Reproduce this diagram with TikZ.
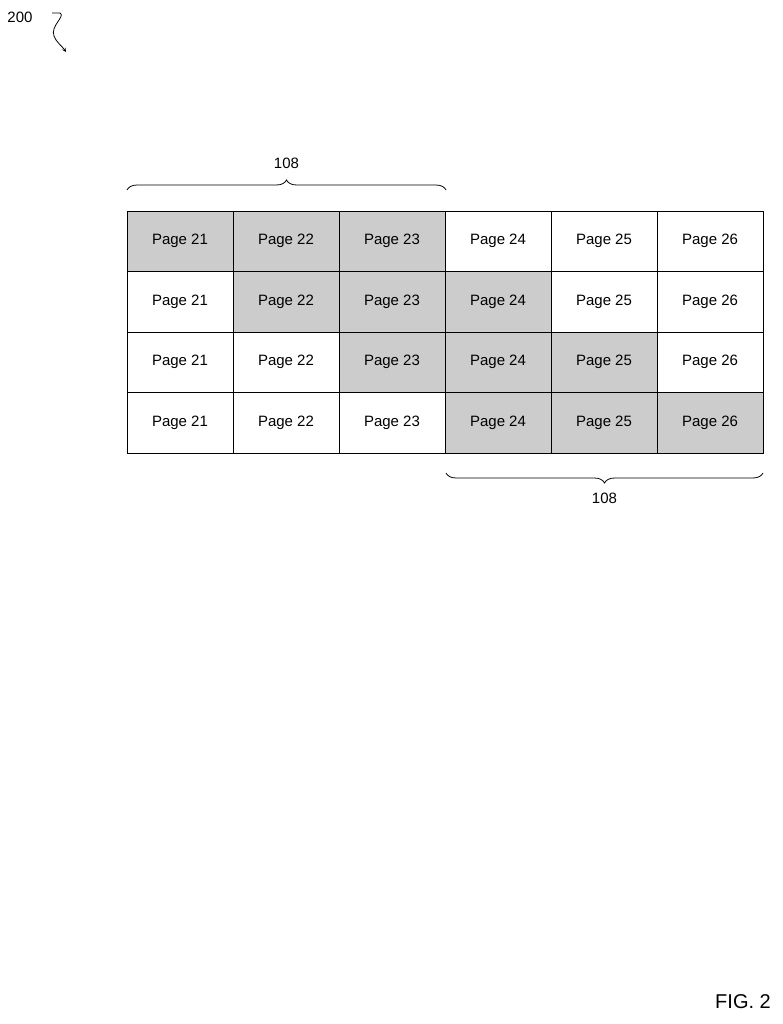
\documentclass[tikz,border=0pt]{standalone}
\usepackage{fontspec}
\setmainfont{Liberation Sans}
\usetikzlibrary{decorations.pathreplacing,arrows}
\tikzstyle{page} = [rectangle, minimum width=106pt, minimum height=60.5pt, draw=black, thick, font=\fontsize{15}{18}\selectfont, inner sep=0pt]
\tikzstyle{shaded} = [page, fill=gray!40]
\tikzstyle{brace} = [thick, decorate, decoration={brace, amplitude=10pt}]
\tikzstyle{arrow} = [thick,->,>=stealth]

\begin{document}
\begin{tikzpicture}[x=1pt, y=-1pt]

\useasboundingbox (0,0) rectangle (782,1024);

%% GRID

\foreach \r/\lo/\hi in {1/1/3, 2/2/4, 3/3/5, 4/4/6} {
  \foreach \c in {1,...,6} {
    \pgfmathtruncatemacro{\num}{20+\c}
    \ifnum\c<\lo
      \node (p\r\c) [page] at (127+106*\c-53, 211+60.5*\r-30.25) {Page \num};
    \else\ifnum\c>\hi
      \node (p\r\c) [page] at (127+106*\c-53, 211+60.5*\r-30.25) {Page \num};
    \else
      \node (p\r\c) [shaded] at (127+106*\c-53, 211+60.5*\r-30.25) {Page \num};
    \fi\fi
  }
}

%% BRACES

\coordinate (b1a) at (127,190);
\coordinate (b1b) at (446,190);
\coordinate (b2a) at (763,473);
\coordinate (b2b) at (446,473);
\draw [brace] (b1a) -- (b1b) node (l1) [midway, above=18pt, font=\fontsize{15}{18}\selectfont] {108};
\draw [brace] (b2a) -- (b2b) node (l2) [midway, below=16pt, font=\fontsize{15}{18}\selectfont] {108};

%% LABELS

\node (fig) [font=\fontsize{15}{18}\selectfont] at (20,17) {200};
\coordinate (sq) at (52,13);
\coordinate (sqend) at (66,52);
\draw [arrow] (sq) -- (60,13) .. controls (66,16) and (50,26) .. (54,36) .. controls (56,42) and (62,46) .. (sqend);
\node (caption) [font=\fontsize{20}{24}\selectfont] at (743,1002) {FIG. 2};

\end{tikzpicture}
\end{document}
